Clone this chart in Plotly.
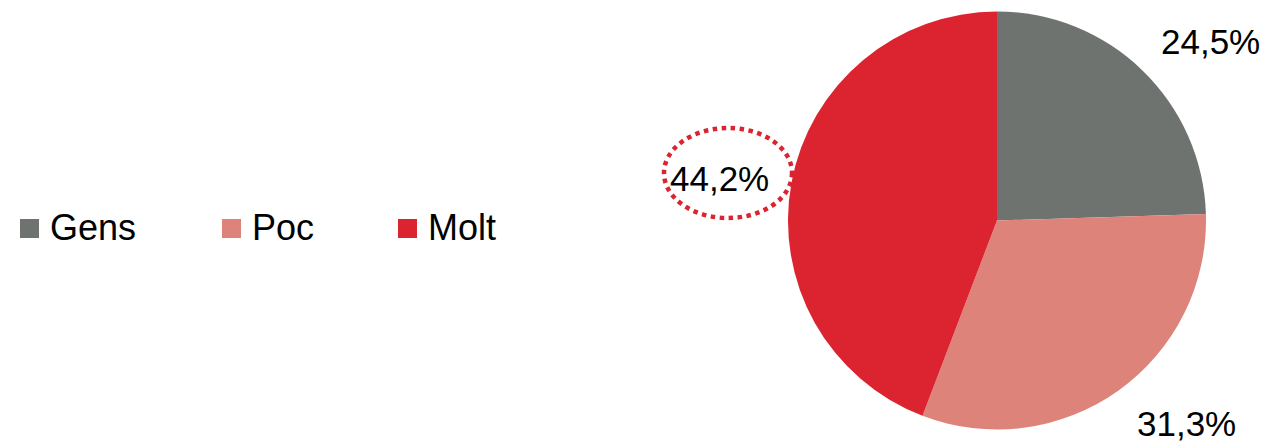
import plotly.graph_objects as go

categories = ["Gens", "Poc", "Molt"]
values = [24.5, 31.3, 44.2]
colors = ["#6f7370", "#de837a", "#dc2330"]
value_labels = ["24,5%", "31,3%", "44,2%"]

W, H = 1268, 443
OFF = 8  # default page body margin
label_px = [(1210, 42), (1186, 423), (719, 178)]
legend_px = [(20, 228), (222, 228), (398, 228)]


def px(x):
    return (x - OFF) / W


def py(y):
    return 1 - (y - OFF) / H


cx, cy, r = 997, 220.5, 209

fig = go.Figure()
fig.add_trace(go.Pie(
    labels=categories,
    values=values,
    marker=dict(colors=colors, line=dict(width=0)),
    sort=False,
    direction="clockwise",
    rotation=0,
    textinfo="none",
    hoverinfo="label+percent",
    showlegend=False,
    domain=dict(x=[px(cx - r), px(cx + r)], y=[py(cy + r), py(cy - r)]),
))

annotations = []
shapes = []
for (lx, ly), t in zip(label_px, value_labels):
    annotations.append(dict(
        x=px(lx), y=py(ly), xref="paper", yref="paper", text=t,
        showarrow=False, xanchor="center", yanchor="middle",
        font=dict(family="Liberation Sans, Arial", size=35, color="#000000"),
    ))

# highlight ellipse around the largest share
shapes.append(dict(
    type="circle", xref="paper", yref="paper",
    x0=px(664), x1=px(792), y0=py(218), y1=py(128),
    line=dict(color="#dc2330", width=4.5, dash="4.5px,4.5px"),
))

for (mx, my), name, c in zip(legend_px, categories, colors):
    shapes.append(dict(
        type="rect", xref="paper", yref="paper",
        x0=px(mx), x1=px(mx + 19), y0=py(my + 10), y1=py(my - 9),
        fillcolor=c, line=dict(width=0),
    ))
    annotations.append(dict(
        x=px(mx + 28), y=py(my), xref="paper", yref="paper", text=name,
        showarrow=False, xanchor="left", yanchor="middle",
        font=dict(family="Liberation Sans, Arial", size=36, color="#000000"),
    ))

fig.update_layout(
    width=W, height=H,
    margin=dict(l=0, r=0, t=0, b=0),
    paper_bgcolor="#ffffff",
    plot_bgcolor="#ffffff",
    annotations=annotations,
    shapes=shapes,
)

fig.write_html("out.html")
